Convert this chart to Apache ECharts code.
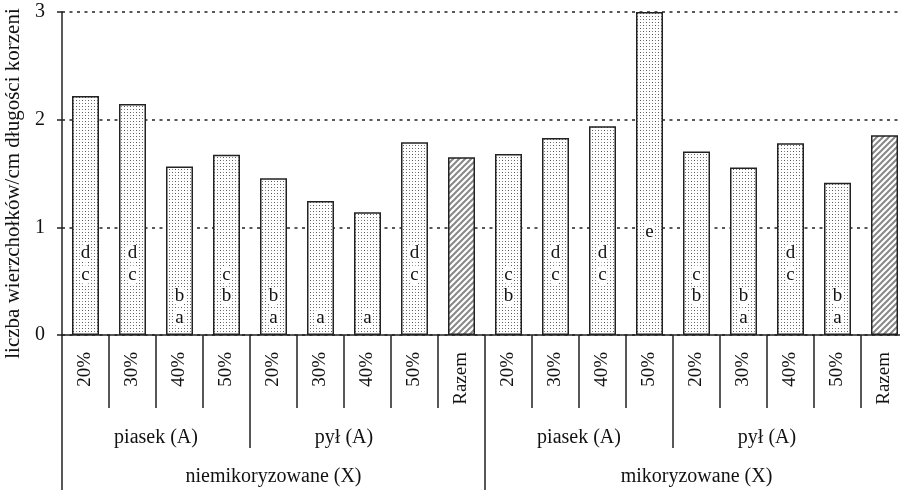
<!DOCTYPE html>
<html>
<head>
<meta charset="utf-8">
<script src="https://cdn.jsdelivr.net/npm/echarts@6/dist/echarts.min.js"></script>
<style>
  html, body { margin: 0; padding: 0; background: #fff; }
  #main { width: 900px; height: 490px; }
</style>
</head>
<body>
<div id="main"></div>
<script>
// dane
var categories = ['20%', '30%', '40%', '50%', '20%', '30%', '40%', '50%', 'Razem',
                  '20%', '30%', '40%', '50%', '20%', '30%', '40%', '50%', 'Razem'];
var values = [2.22, 2.145, 1.565, 1.675, 1.455, 1.245, 1.14, 1.79, 1.65,
              1.68, 1.83, 1.94, 3.0, 1.705, 1.555, 1.78, 1.415, 1.855];
var letters = ['cd', 'cd', 'ab', 'bc', 'ab', 'a', 'a', 'cd', '',
               'bc', 'cd', 'cd', 'e', 'bc', 'ab', 'cd', 'ab', ''];
var level2Names = ['piasek (A)', 'pył (A)', '', 'piasek (A)', 'pył (A)', ''];
var level2Span = [4, 4, 1, 4, 4, 1];
var level3Names = ['niemikoryzowane (X)', 'mikoryzowane (X)'];
var level3Span = [9, 9];
var yTicks = [0, 1, 2, 3];

var FONT = 'Liberation Serif';

function dotPattern() {
  var c = document.createElement('canvas');
  c.width = 6; c.height = 6;
  var ctx = c.getContext('2d');
  ctx.fillStyle = '#fff';
  ctx.fillRect(0, 0, 6, 6);
  ctx.fillStyle = '#555';
  ctx.fillRect(1, 1, 1, 1);
  ctx.fillRect(4, 4, 1, 1);
  ctx.fillStyle = '#888';
  ctx.fillRect(4, 1, 1, 1);
  ctx.fillRect(1, 4, 1, 1);
  return c;
}

function hatchPattern() {
  var c = document.createElement('canvas');
  c.width = 6; c.height = 6;
  var ctx = c.getContext('2d');
  ctx.fillStyle = '#fff';
  ctx.fillRect(0, 0, 6, 6);
  ctx.strokeStyle = '#888';
  ctx.lineWidth = 2;
  ctx.beginPath();
  ctx.moveTo(-1, 7); ctx.lineTo(7, -1);
  ctx.moveTo(-4, 4); ctx.lineTo(4, -4);
  ctx.moveTo(2, 10); ctx.lineTo(10, 2);
  ctx.stroke();
  return c;
}

var dots = { image: dotPattern(), repeat: 'repeat' };
var hatch = { image: hatchPattern(), repeat: 'repeat' };

// os w polowkach kategorii, zeby podpisy grup wypadaly na srodku
function halfAxis(names, spans) {
  var data = [];
  for (var i = 0; i <= categories.length * 2; i++) data.push('');
  var starts = [];
  var s = 0;
  names.forEach(function (n, i) {
    if (n) {
      data[2 * s + spans[i]] = n;
      starts.push(2 * s);
    }
    s += spans[i];
  });
  return { data: data, starts: starts };
}
var lvl2 = halfAxis(level2Names, level2Span);
var lvl3 = halfAxis(level3Names, level3Span);

var barData = values.map(function (v, i) {
  return {
    value: v,
    itemStyle: { color: categories[i] === 'Razem' ? hatch : dots }
  };
});

var letterData = [];
letters.forEach(function (str, i) {
  str.split('').forEach(function (ch) {
    var k = ch.charCodeAt(0) - 97;
    letterData.push({ value: [i, 0.16 + 0.2 * k], label: { formatter: ch } });
  });
});

var chart = echarts.init(document.getElementById('main'), null, { renderer: 'canvas' });

var axisBlack = { color: '#222', width: 1.5 };

var option = {
  animation: false,
  backgroundColor: '#fff',
  grid: { left: 62, top: 12, bottom: 155, width: 846, containLabel: false, outerBoundsMode: 'none' },
  xAxis: [{
    type: 'category',
    data: categories,
    position: 'bottom',
    axisLine: { lineStyle: axisBlack },
    axisTick: { show: true, interval: 0, length: 73, lineStyle: axisBlack },
    axisLabel: {
      interval: 0, rotate: 90, margin: 17,
      fontFamily: FONT, fontSize: 19, color: '#111'
    },
    splitLine: { show: false }
  }, {
    type: 'category',
    data: lvl2.data,
    boundaryGap: false,
    position: 'bottom',
    axisLine: { show: false },
    axisTick: {
      show: true, length: 113, lineStyle: axisBlack,
      interval: function (i) { return lvl2.starts.indexOf(i) >= 0; }
    },
    axisLabel: {
      interval: function (i, v) { return v !== ''; },
      margin: 93, fontFamily: FONT, fontSize: 20, color: '#111'
    },
    splitLine: { show: false }
  }, {
    type: 'category',
    data: lvl3.data,
    boundaryGap: false,
    position: 'bottom',
    axisLine: { show: false },
    axisTick: {
      show: true, length: 160, lineStyle: axisBlack,
      interval: function (i) { return lvl3.starts.indexOf(i) >= 0; }
    },
    axisLabel: {
      interval: function (i, v) { return v !== ''; },
      margin: 132, fontFamily: FONT, fontSize: 20, color: '#111'
    },
    splitLine: { show: false }
  }],
  yAxis: {
    type: 'value',
    min: yTicks[0],
    max: yTicks[yTicks.length - 1],
    interval: 1,
    name: 'liczba wierzchołków/cm długości korzeni',
    nameLocation: 'middle',
    nameGap: 34,
    nameTextStyle: { fontFamily: FONT, fontSize: 21, color: '#111', padding: [0, 20, 0, 0] },
    axisLine: { show: true, lineStyle: axisBlack },
    axisTick: { show: true, length: 5, lineStyle: axisBlack },
    axisLabel: { margin: 17, fontFamily: FONT, fontSize: 20, color: '#111' },
    splitLine: { show: true, lineStyle: { color: '#222', width: 1.5, type: [3, 4.5] } }
  },
  series: [{
    type: 'bar',
    xAxisIndex: 0,
    data: barData,
    barWidth: 27,
    itemStyle: { borderColor: '#222', borderWidth: 1.5 }
  }, {
    type: 'scatter',
    xAxisIndex: 0,
    data: letterData,
    symbolSize: 0,
    itemStyle: { opacity: 1 },
    label: {
      show: true,
      position: 'inside',
      fontFamily: FONT,
      fontSize: 19,
      color: '#111',
      backgroundColor: '#fff',
      borderRadius: 6,
      padding: [0, 1, 0, 1]
    },
    z: 5
  }]
};

chart.setOption(option);
</script>
</body>
</html>
